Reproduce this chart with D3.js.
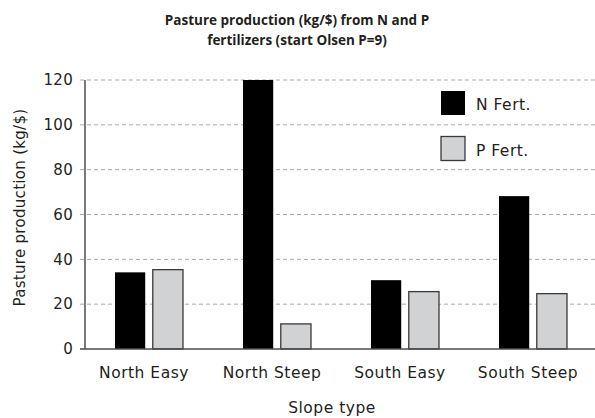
<!DOCTYPE html>
<html>
<head>
<meta charset="utf-8">
<script src="https://cdn.jsdelivr.net/npm/d3@7"></script>
<style>
  body { margin: 0; background: #fff; }
  svg text { font-family: 'DejaVu Sans', sans-serif; fill: #231f20; }
</style>
</head>
<body>
<svg id="chart" width="595" height="418"></svg>
<script>
/* global d3 */

// data
const slopes = ['North Easy', 'North Steep', 'South Easy', 'South Steep']
const nFert = [34.2, 120, 30.7, 68.2]
const pFert = [35.4, 11.2, 25.6, 24.7]
const seriesNames = ['N Fert.', 'P Fert.']
const yTicks = [0, 20, 40, 60, 80, 100, 120]

const width = 595
const height = 418
const margin = { top: 80, right: 0, bottom: 69, left: 85 }
const labelSize = 15.5
const labelSpacing = 0.5

const svg = d3.select('#chart')

const x = d3.scaleBand()
  .domain(slopes)
  .range([margin.left, margin.left + 4 * 128])

const x1 = d3.scaleBand()
  .domain(seriesNames)
  .range([x.bandwidth() / 2 - 34, x.bandwidth() / 2 + 34])
  .paddingInner(0.2)

const y = d3.scaleLinear()
  .domain([0, 120])
  .range([height - margin.bottom, margin.top])

const colors = { 'N Fert.': '#000000', 'P Fert.': '#d1d2d4' }

// grid lines
svg.append('g')
  .selectAll('line')
  .data(yTicks.filter(d => d > 0))
  .join('line')
  .attr('x1', margin.left - 5)
  .attr('x2', width)
  .attr('y1', d => y(d))
  .attr('y2', d => y(d))
  .attr('stroke', '#a7a9ac')
  .attr('stroke-width', 1)
  .attr('stroke-dasharray', '4,3')

// bars
const rows = slopes.map((s, i) => ({ slope: s, values: [nFert[i], pFert[i]] }))
const groups = svg.append('g')
  .selectAll('g')
  .data(rows)
  .join('g')
  .attr('transform', d => `translate(${x(d.slope)},0)`)

groups.selectAll('rect')
  .data(d => d.values.map((v, i) => ({ key: seriesNames[i], value: v })))
  .join('rect')
  .attr('x', d => x1(d.key))
  .attr('width', x1.bandwidth())
  .attr('y', d => y(d.value))
  .attr('height', d => y(0) - y(d.value))
  .attr('fill', d => colors[d.key])
  .attr('stroke', d => d.key === 'N Fert.' ? 'none' : '#3a3a3a')
  .attr('stroke-width', 1.3)

// y axis
const yAxis = d3.axisLeft(y)
  .tickValues(yTicks)
  .tickSize(0)
  .tickPadding(12)
svg.append('g')
  .attr('transform', `translate(${margin.left},0)`)
  .call(yAxis)
  .call(g => g.select('.domain').remove())
  .call(g => g.selectAll('text')
    .attr('font-size', 15)
    .attr('letter-spacing', 0.3)
    .style('font-family', 'DejaVu Sans')
    .attr('fill', '#231f20'))

svg.append('line')
  .attr('x1', margin.left).attr('x2', margin.left)
  .attr('y1', margin.top).attr('y2', y(0))
  .attr('stroke', '#4d4d4f').attr('stroke-width', 1.5)

// x axis
const xAxis = d3.axisBottom(x).tickSize(0).tickPadding(0)
svg.append('g')
  .attr('transform', `translate(0,${y(0)})`)
  .call(xAxis)
  .call(g => g.select('.domain').remove())
  .call(g => g.selectAll('text')
    .attr('font-size', labelSize)
    .attr('letter-spacing', labelSpacing)
    .attr('dy', 0)
    .attr('y', 29)
    .attr('dx', -5)
    .style('font-family', 'DejaVu Sans')
    .attr('fill', '#231f20'))

svg.append('line')
  .attr('x1', margin.left - 5).attr('x2', width)
  .attr('y1', y(0)).attr('y2', y(0))
  .attr('stroke', '#4d4d4f').attr('stroke-width', 1.5)

// titles
const title = svg.append('text')
  .attr('text-anchor', 'middle')
  .attr('font-size', 13.5)
  .attr('font-weight', 'bold')
  .style('font-family', 'Open Sans')
title.append('tspan').attr('x', 297).attr('y', 25).text('Pasture production (kg/$) from N and P')
title.append('tspan').attr('x', 297).attr('y', 45).text('fertilizers (start Olsen P=9)')

svg.append('text')
  .attr('text-anchor', 'middle')
  .attr('font-size', labelSize)
  .attr('letter-spacing', labelSpacing)
  .attr('x', 332)
  .attr('y', 413)
  .text('Slope type')

svg.append('text')
  .attr('text-anchor', 'middle')
  .attr('font-size', 15)
  .attr('letter-spacing', 0.3)
  .attr('transform', `translate(25,${(margin.top + y(0)) / 2 - 7}) rotate(-90)`)
  .text('Pasture production (kg/$)')

// legend
const legend = svg.append('g')
  .selectAll('g')
  .data(seriesNames)
  .join('g')
  .attr('transform', (d, i) => `translate(441,${91 + i * 45.5})`)

legend.append('rect')
  .attr('width', 24)
  .attr('height', 24)
  .attr('fill', d => colors[d])
  .attr('stroke', d => d === 'N Fert.' ? 'none' : '#3a3a3a')
  .attr('stroke-width', 1.3)

legend.append('text')
  .attr('x', 35)
  .attr('y', 19)
  .attr('font-size', labelSize)
  .attr('letter-spacing', labelSpacing)
  .text(d => d)
</script>
</body>
</html>
